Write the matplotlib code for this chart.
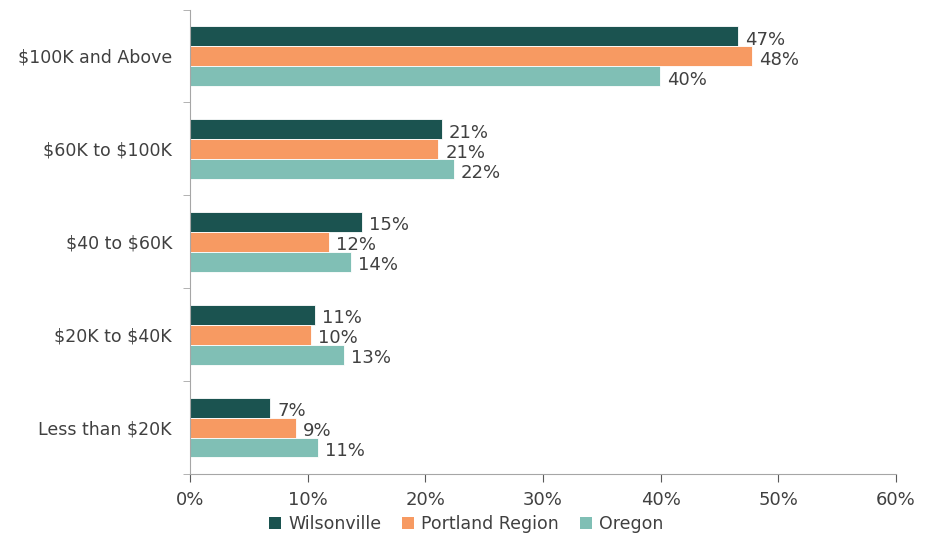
import numpy as np
import matplotlib.pyplot as plt
from matplotlib.patches import Patch

categories = ["$100K and Above", "$60K to $100K", "$40 to $60K", "$20K to $40K", "Less than $20K"]
series_names = ["Wilsonville", "Portland Region", "Oregon"]
wilsonville = [46.6, 21.4, 14.6, 10.6, 6.8]
portland = [47.8, 21.1, 11.8, 10.3, 9.0]
oregon = [39.9, 22.4, 13.7, 13.1, 10.9]
colors = ["#1B5350", "#F79A62", "#80BFB5"]
xticks = [0, 10, 20, 30, 40, 50, 60]

plt.rcParams['font.family'] = ['DejaVu Sans']
plt.rcParams['text.parse_math'] = False
text_color = "#404040"
spine_color = "#A6A6A6"

fig = plt.figure(figsize=(9.32, 5.46), dpi=100)
ax = fig.add_axes([0.2039, 0.1319, 0.7575, 0.8507])

y = np.arange(len(categories))
h = 0.215
for i, (vals, c) in enumerate(zip([wilsonville, portland, oregon], colors)):
    pos = y + (i - 1) * h
    ax.barh(pos, vals, height=h, color=c, edgecolor="white", linewidth=0.6)
    for p, v in zip(pos, vals):
        ax.text(v + 0.6, p + 0.04, "%d%%" % round(v), va="center", ha="left",
                fontsize=13, color=text_color)

ax.set_ylim(len(categories) - 0.5, -0.5)
ax.set_xlim(0, 60)
ax.set_yticks(y)
ax.set_yticklabels(categories, fontsize=12.5, color=text_color)
ax.set_yticks(np.arange(-0.5, len(categories), 1.0), minor=True)
ax.tick_params(axis="y", which="major", length=0, pad=13)
ax.tick_params(axis="y", which="minor", length=5, color=spine_color, direction="out")
ax.set_xticks(xticks)
ax.set_xticklabels(["%d%%" % t for t in xticks], fontsize=13, color=text_color)
ax.tick_params(axis="x", length=6, color="#595959", pad=6)

for s in ["top", "right"]:
    ax.spines[s].set_visible(False)
ax.spines["left"].set_color(spine_color)
ax.spines["bottom"].set_color(spine_color)

handles = [Patch(facecolor=c, label=n) for c, n in zip(colors, series_names)]
fig.legend(handles=handles, loc="lower center", bbox_to_anchor=(0.5, -0.005), ncol=3,
           frameon=False, fontsize=12.5, handlelength=0.7, handleheight=0.7,
           handletextpad=0.4, columnspacing=1.2, labelcolor=text_color)

fig.savefig("out.png", dpi=100)
